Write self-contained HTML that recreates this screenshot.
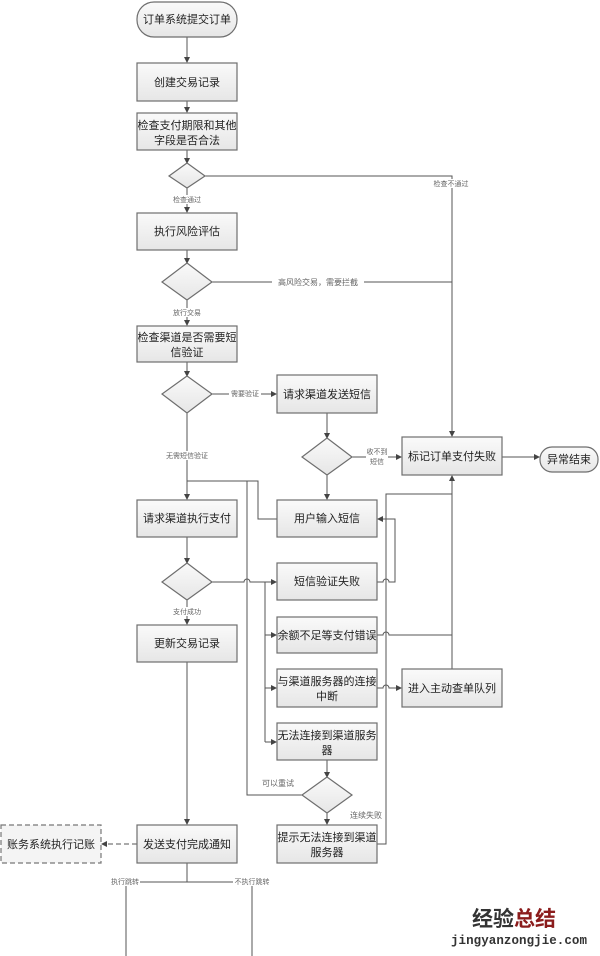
<!DOCTYPE html>
<html><head><meta charset="utf-8"><style>
html,body{margin:0;padding:0;background:#fff;}
svg{display:block;}
text{font-family:"Liberation Sans","Noto Sans CJK SC",sans-serif;}
.b{fill:url(#g);stroke:#6e6e6e;stroke-width:1.2;}
.t{font-size:11px;fill:#222;text-anchor:middle;}
.l{font-size:7px;fill:#666;text-anchor:middle;}
.ln{stroke:#555;stroke-width:1;fill:none;}
</style></head><body>
<svg width="600" height="956" viewBox="0 0 600 956" xmlns="http://www.w3.org/2000/svg">
<defs>
<linearGradient id="g" x1="0" y1="0" x2="0" y2="1"><stop offset="0" stop-color="#fafafa"/><stop offset="1" stop-color="#e6e6e6"/></linearGradient>
<marker id="a" markerWidth="6" markerHeight="6" refX="5" refY="3" orient="auto"><path d="M0,0 L6,3 L0,6 z" fill="#444"/></marker>
</defs>
<g class="ln">
<path d="M187 37 V62" marker-end="url(#a)"/>
<path d="M187 101 V112" marker-end="url(#a)"/>
<path d="M187 150 V163" marker-end="url(#a)"/>
<path d="M187 188 V212" marker-end="url(#a)"/>
<path d="M205 176 H452 V436" marker-end="url(#a)"/>
<path d="M187 250 V263" marker-end="url(#a)"/>
<path d="M212 282 H452"/>
<path d="M187 300 V325" marker-end="url(#a)"/>
<path d="M187 362 V376" marker-end="url(#a)"/>
<path d="M212 394 H276" marker-end="url(#a)"/>
<path d="M327 413 V438" marker-end="url(#a)"/>
<path d="M352 457 H401" marker-end="url(#a)"/>
<path d="M502 457 H539" marker-end="url(#a)"/>
<path d="M327 475 V499" marker-end="url(#a)"/>
<path d="M187 413 V499" marker-end="url(#a)"/>
<path d="M187 481 H258 V519 H277"/>
<path d="M247 481 V795 H302"/>
<path d="M187 537 V563" marker-end="url(#a)"/>
<path d="M212 582 H244 a3 3 0 0 1 6 0 H276" marker-end="url(#a)"/>
<path d="M265 582 V742"/>
<path d="M265 635 H276" marker-end="url(#a)"/>
<path d="M265 688 H276" marker-end="url(#a)"/>
<path d="M265 742 H276" marker-end="url(#a)"/>
<path d="M187 600 V624" marker-end="url(#a)"/>
<path d="M377 582 H383 a3 3 0 0 1 6 0 H395 V519 H378" marker-end="url(#a)"/>
<path d="M377 844 H386 V494 H452"/>
<path d="M452 669 V476" marker-end="url(#a)"/>
<path d="M377 635 H383 a3 3 0 0 1 6 0 H452"/>
<path d="M377 688 H383 a3 3 0 0 1 6 0 H401" marker-end="url(#a)"/>
<path d="M327 760 V777" marker-end="url(#a)"/>
<path d="M327 813 V824" marker-end="url(#a)"/>
<path d="M187 662 V824" marker-end="url(#a)"/>
<path d="M137 844 H102" stroke-dasharray="5,3" marker-end="url(#a)"/>
<path d="M187 863 V882 M126 882 H252 M126 882 V956 M252 882 V956"/>
</g>
<rect class="b" x="137" y="2" width="100" height="35" rx="17"/>
<text class="t" x="187" y="23">订单系统提交订单</text>
<rect class="b" x="137" y="63" width="100" height="38"/>
<text class="t" x="187" y="86">创建交易记录</text>
<rect class="b" x="137" y="113" width="100" height="37"/>
<text class="t" x="187" y="129">检查支付期限和其他</text>
<text class="t" x="187" y="144">字段是否合法</text>
<path class="b" d="M187 163 L205 176 L187 188 L169 176 z"/>
<rect class="b" x="137" y="213" width="100" height="37"/>
<text class="t" x="187" y="235">执行风险评估</text>
<path class="b" d="M187 263 L212 282 L187 300 L162 282 z"/>
<rect class="b" x="137" y="326" width="100" height="36"/>
<text class="t" x="187" y="341">检查渠道是否需要短</text>
<text class="t" x="187" y="356">信验证</text>
<path class="b" d="M187 376 L212 394 L187 413 L162 394 z"/>
<rect class="b" x="277" y="375" width="100" height="38"/>
<text class="t" x="327" y="398">请求渠道发送短信</text>
<path class="b" d="M327 438 L352 457 L327 475 L302 457 z"/>
<rect class="b" x="402" y="437" width="100" height="38"/>
<text class="t" x="452" y="460">标记订单支付失败</text>
<rect class="b" x="540" y="447" width="58" height="25" rx="12"/>
<text class="t" x="569" y="463">异常结束</text>
<rect class="b" x="137" y="500" width="100" height="37"/>
<text class="t" x="187" y="522">请求渠道执行支付</text>
<rect class="b" x="277" y="500" width="100" height="37"/>
<text class="t" x="327" y="522">用户输入短信</text>
<path class="b" d="M187 563 L212 582 L187 600 L162 582 z"/>
<rect class="b" x="277" y="563" width="100" height="37"/>
<text class="t" x="327" y="585">短信验证失败</text>
<rect class="b" x="137" y="625" width="100" height="37"/>
<text class="t" x="187" y="647">更新交易记录</text>
<rect class="b" x="277" y="617" width="100" height="36"/>
<text class="t" x="327" y="639">余额不足等支付错误</text>
<rect class="b" x="277" y="669" width="100" height="38"/>
<text class="t" x="327" y="685">与渠道服务器的连接</text>
<text class="t" x="327" y="700">中断</text>
<rect class="b" x="402" y="669" width="100" height="38"/>
<text class="t" x="452" y="692">进入主动查单队列</text>
<rect class="b" x="277" y="723" width="100" height="37"/>
<text class="t" x="327" y="739">无法连接到渠道服务</text>
<text class="t" x="327" y="754">器</text>
<path class="b" d="M327 777 L352 795 L327 813 L302 795 z"/>
<rect class="b" x="137" y="825" width="100" height="38"/>
<text class="t" x="187" y="848">发送支付完成通知</text>
<rect x="1" y="825" width="100" height="38" fill="#f4f4f4" stroke="#777" stroke-width="1.2" stroke-dasharray="5,3"/>
<text class="t" x="51" y="848">账务系统执行记账</text>
<rect class="b" x="277" y="825" width="100" height="38"/>
<text class="t" x="327" y="841">提示无法连接到渠道</text>
<text class="t" x="327" y="856">服务器</text>
<g>
<rect x="430" y="179" width="42" height="9" fill="#fff"/><text class="l" x="451" y="186">检查不通过</text>
<rect x="172" y="195" width="30" height="9" fill="#fff"/><text class="l" x="187" y="202">检查通过</text>
<rect x="272" y="277" width="92" height="10" fill="#fff"/><text class="l" x="318" y="285" style="font-size:8px">高风险交易，需要拦截</text>
<rect x="172" y="308" width="30" height="9" fill="#fff"/><text class="l" x="187" y="315">放行交易</text>
<rect x="229" y="389" width="32" height="9" fill="#fff"/><text class="l" x="245" y="396">需要验证</text>
<rect x="366" y="446" width="22" height="20" fill="#fff"/><text class="l" x="377" y="454">收不到</text><text class="l" x="377" y="464">短信</text>
<rect x="165" y="451" width="44" height="9" fill="#fff"/><text class="l" x="187" y="458">无需短信验证</text>
<rect x="172" y="607" width="30" height="9" fill="#fff"/><text class="l" x="187" y="614">支付成功</text>
<text class="l" x="278" y="786" style="font-size:8px">可以重试</text>
<text class="l" x="366" y="818" style="font-size:8px">连续失败</text>
<rect x="110" y="877" width="30" height="9" fill="#fff"/><text class="l" x="125" y="884">执行跳转</text>
<rect x="233" y="877" width="38" height="9" fill="#fff"/><text class="l" x="252" y="884">不执行跳转</text>
</g>
<text x="472" y="926" style="font-size:21px;font-weight:bold;fill:#333">经验<tspan fill="#8b1c1c">总结</tspan></text>
<text x="451" y="944" style="font-family:'Liberation Mono',monospace;font-size:12.5px;font-weight:bold;fill:#333" textLength="136">jingyanzongjie.com</text>
</svg>
</body></html>
